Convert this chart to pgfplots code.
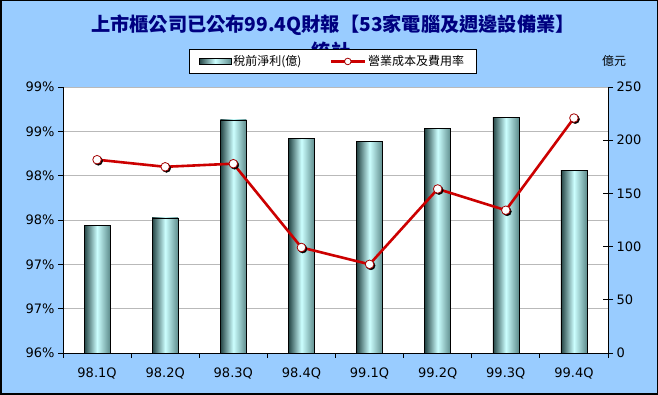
\documentclass[border=0pt]{standalone}
\usepackage{pgfplots}
\pgfplotsset{compat=1.18}
\usepackage{fontspec}
\setmainfont{DejaVu Sans}
\newfontfamily\cjk{Noto Sans CJK TC}
\definecolor{bgblue}{HTML}{99CCFF}
\definecolor{titleblue}{HTML}{000080}
\definecolor{linered}{HTML}{CC0000}
\definecolor{bardark}{HTML}{234343}
\definecolor{barlight}{HTML}{CCFFFF}
\definecolor{barright}{HTML}{5E8C8C}
\pgfplotsset{cyl/.style={draw=black, line width=0.6pt, bar shift=0pt, left color=bardark, right color=barright, middle color=barlight}}
\begin{document}
\begin{tikzpicture}[x=1pt,y=1pt]
\fill[bgblue] (0,0) rectangle (658,395);
\draw[black, line width=1.5pt] (0.75,0.75) rectangle (657.25,394.25);
\node[font=\cjk\bfseries\fontsize{19.2}{22}\selectfont, text=titleblue] at (333,369.5) {上市櫃公司已公布99.4Q財報【53家電腦及週邊設備業】};
\node[font=\cjk\bfseries\fontsize{19.2}{22}\selectfont, text=titleblue] at (331,343.5) {統計};
\node[font=\cjk\fontsize{12}{14}\selectfont] at (614,334) {億元};

\begin{axis}[
  at={(63pt,42pt)}, anchor=south west, scale only axis,
  width=545pt, height=266pt,
  axis background/.style={fill=white},
  xmin=-0.5, xmax=7.5, ymin=0, ymax=250,
  axis y line*=right, axis x line*=bottom,
  axis line style={black, line width=0.8pt},
  ybar, bar width=26pt,
  xtick={0,...,7},
  xticklabels={98.1Q,98.2Q,98.3Q,98.4Q,99.1Q,99.2Q,99.3Q,99.4Q},
  major x tick style={draw=none},
  minor xtick={-0.5,0.5,...,7.5},
  minor x tick style={black, line width=0.8pt, yshift=-2.5pt},
  minor tick length=5pt,
  tick align=center,
  major tick length=10pt,
  ytick={0,50,...,250},
  y tick style={black, line width=0.8pt},
  /pgf/number format/assume math mode=true,
  xticklabel style={font=\fontsize{13}{15}\selectfont, yshift=-6pt},
  yticklabel style={font=\fontsize{13}{15}\selectfont},
  extra y ticks={41.6667,83.3333,125,166.6667,208.3333,250},
  extra y tick labels={},
  extra y tick style={grid=major, major tick length=0pt, major grid style={gray!55, line width=0.6pt}},
  clip=false,
]
\addplot[cyl] coordinates {(0,120)};
\addplot[cyl] coordinates {(1,127)};
\addplot[cyl] coordinates {(2,219)};
\addplot[cyl] coordinates {(3,202)};
\addplot[cyl] coordinates {(4,199)};
\addplot[cyl] coordinates {(5,211)};
\addplot[cyl] coordinates {(6,221.5)};
\addplot[cyl] coordinates {(7,171.5)};
\end{axis}

\begin{axis}[
  at={(63pt,42pt)}, anchor=south west, scale only axis,
  width=545pt, height=266pt,
  xmin=-0.5, xmax=7.5, ymin=96, ymax=99,
  axis y line*=left, axis x line=none,
  axis line style={black, line width=0.8pt},
  ytick={96,96.5,97,97.5,98,98.5,99},
  yticklabels={96\%,97\%,97\%,98\%,98\%,99\%,99\%},
  tick align=outside, major tick length=5pt,
  y tick style={black, line width=0.8pt},
  yticklabel style={font=\fontsize{13}{15}\selectfont},
  clip=false,
  legend style={at={(0.4945,1.096)}, anchor=center, legend columns=2,
    draw=black, fill=white, line width=0.6pt, inner xsep=10pt, inner ysep=4pt,
    font=\cjk\fontsize{12}{14}\selectfont,
    /tikz/every even column/.append style={column sep=26pt}},
  legend cell align=left,
]
\addlegendimage{legend image code/.code={
  \draw[draw=black, line width=0.5pt, left color=bardark, right color=barright, middle color=barlight] (0pt,-3pt) rectangle (32pt,3pt);}}
\addlegendentry{稅前淨利(億)}
\addplot[only marks, mark=*, mark size=4.3pt, black, forget plot,
  mark options={xshift=1.3pt, yshift=-1.3pt}]
  coordinates {(0,98.18) (1,98.10) (2,98.135) (3,97.19) (4,97.00) (5,97.85) (6,97.61) (7,98.65)};
\addplot[linered, line width=2.6pt, mark=*, mark size=4.3pt,
  mark options={fill=white, draw=linered!80!black, line width=0.8pt},
  legend image code/.code={
  \draw[linered, line width=2.6pt] (0pt,0pt) -- (34pt,0pt);
  \draw[fill=white, draw=linered!80!black, line width=0.8pt] (17pt,0pt) circle (3.3pt);}]
  coordinates {(0,98.18) (1,98.10) (2,98.135) (3,97.19) (4,97.00) (5,97.85) (6,97.61) (7,98.65)};
\addlegendentry{營業成本及費用率}
\end{axis}
\end{tikzpicture}
\end{document}
